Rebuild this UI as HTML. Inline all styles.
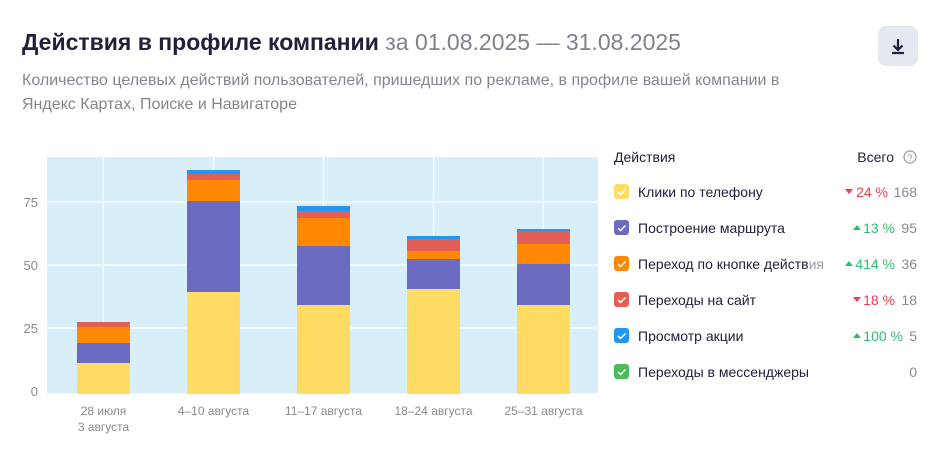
<!DOCTYPE html>
<html><head><meta charset="utf-8"><style>
body{margin:0;width:940px;height:460px;background:#fff;font-family:"Liberation Sans","Noto Sans CJK SC",sans-serif;position:relative;overflow:hidden}
.a{position:absolute;white-space:nowrap}
</style></head><body>
<div class="a" style="left:22px;top:29px;font-size:23px;font-weight:bold;color:#21213a">Действия в профиле компании <span style="font-weight:normal;color:#80808e">за 01.08.2025 — 31.08.2025</span></div>
<div class="a" style="left:22px;top:69px;font-size:16px;line-height:24px;color:#85858f">Количество целевых действий пользователей, пришедших по рекламе, в профиле вашей компании в<br>Яндекс Картах, Поиске и Навигаторе</div>
<div class="a" style="left:878px;top:26px;width:40px;height:40px;border-radius:8px;background:#e5e8f0"><svg width="40" height="40"><path d="M20 13v11M15.5 19.5 20 24l4.5-4.5M14 27h12" stroke="#21213a" stroke-width="2.2" fill="none"/></svg></div>
<svg class="a" style="left:0;top:0" width="600" height="460">
<rect x="47" y="157" width="551" height="237" fill="#d8eef9"/>
<g stroke="#fff" stroke-width="1.2">
<line x1="47" x2="598" y1="202" y2="202"/><line x1="47" x2="598" y1="265" y2="265"/><line x1="47" x2="598" y1="328" y2="328"/><line x1="47" x2="598" y1="394" y2="394"/>
<line x1="103.5" x2="103.5" y1="157" y2="394"/><line x1="213.5" x2="213.5" y1="157" y2="394"/><line x1="323.5" x2="323.5" y1="157" y2="394"/><line x1="433.5" x2="433.5" y1="157" y2="394"/><line x1="543.5" x2="543.5" y1="157" y2="394"/>
</g>
<g font-size="13" fill="#8a8a8a" text-anchor="end"><text x="38" y="207">75</text><text x="38" y="270">50</text><text x="38" y="333">25</text><text x="38" y="396">0</text></g>
<g>
<rect x="77" y="363" width="53" height="31" fill="#fedb62"/><rect x="77" y="343" width="53" height="20" fill="#6b6bc1"/><rect x="77" y="327" width="53" height="16" fill="#ff8800"/><rect x="77" y="322" width="53" height="5" fill="#e35f56"/>
<rect x="187" y="292" width="53" height="102" fill="#fedb62"/><rect x="187" y="201" width="53" height="91" fill="#6b6bc1"/><rect x="187" y="180" width="53" height="21" fill="#ff8800"/><rect x="187" y="174" width="53" height="6" fill="#e35f56"/><rect x="187" y="170" width="53" height="4" fill="#2196f3"/>
<rect x="297" y="305" width="53" height="89" fill="#fedb62"/><rect x="297" y="246" width="53" height="59" fill="#6b6bc1"/><rect x="297" y="218" width="53" height="28" fill="#ff8800"/><rect x="297" y="211" width="53" height="7" fill="#e35f56"/><rect x="297" y="206" width="53" height="5" fill="#2196f3"/>
<rect x="407" y="289" width="53" height="105" fill="#fedb62"/><rect x="407" y="259" width="53" height="30" fill="#6b6bc1"/><rect x="407" y="251" width="53" height="8" fill="#ff8800"/><rect x="407" y="239" width="53" height="12" fill="#e35f56"/><rect x="407" y="236" width="53" height="3" fill="#2196f3"/>
<rect x="517" y="305" width="53" height="89" fill="#fedb62"/><rect x="517" y="264" width="53" height="41" fill="#6b6bc1"/><rect x="517" y="244" width="53" height="20" fill="#ff8800"/><rect x="517" y="231" width="53" height="13" fill="#e35f56"/><rect x="517" y="229" width="53" height="2" fill="#2196f3"/>
</g>
<g font-size="12" fill="#8a8a8a" text-anchor="middle"><text x="103.5" y="415">28 июля</text><text x="103.5" y="431">3 августа</text><text x="213.5" y="415">4–10 августа</text><text x="323.5" y="415">11–17 августа</text><text x="433.5" y="415">18–24 августа</text><text x="543.5" y="415">25–31 августа</text></g>
</svg>
<svg class="a" style="left:600px;top:140px" width="340" height="250" font-family="Liberation Sans, sans-serif">
<text x="14" y="22" font-size="14" fill="#21213a">Действия</text>
<text x="294" y="22" font-size="14" fill="#21213a" text-anchor="end">Всего</text>
<circle cx="310" cy="17" r="6" fill="none" stroke="#999" stroke-width="1.2"/><text x="310" y="21" font-size="9" fill="#999" text-anchor="middle">?</text>
<g font-size="14">
<g transform="translate(0,52)"><rect x="14" y="-8" width="15" height="15" rx="3" fill="#fedb62"/><path d="M18 0l2.5 2.5 5-5" stroke="#fff" stroke-width="1.5" fill="none"/><text x="38" y="5" fill="#21213a">Клики по телефону</text><path d="M245-3h8l-4 5z" fill="#f33b4f"/><text x="288" y="5" fill="#f33b4f" text-anchor="end">24 %</text><text x="317" y="5" fill="#8a8a95" text-anchor="end">168</text></g>
<g transform="translate(0,88)"><rect x="14" y="-8" width="15" height="15" rx="3" fill="#6b6bc1"/><path d="M18 0l2.5 2.5 5-5" stroke="#fff" stroke-width="1.5" fill="none"/><text x="38" y="5" fill="#21213a">Построение маршрута</text><path d="M253 2h8l-4-5z" fill="#2dbd6e"/><text x="295" y="5" fill="#2dbd6e" text-anchor="end">13 %</text><text x="317" y="5" fill="#8a8a95" text-anchor="end">95</text></g>
<g transform="translate(0,124)"><rect x="14" y="-8" width="15" height="15" rx="3" fill="#ff8800"/><path d="M18 0l2.5 2.5 5-5" stroke="#fff" stroke-width="1.5" fill="none"/><text x="38" y="5" fill="#21213a">Переход по кнопке действ<tspan fill="#9a9aa5">ия</tspan></text><path d="M245 2h8l-4-5z" fill="#2dbd6e"/><text x="295" y="5" fill="#2dbd6e" text-anchor="end">414 %</text><text x="317" y="5" fill="#8a8a95" text-anchor="end">36</text></g>
<g transform="translate(0,160)"><rect x="14" y="-8" width="15" height="15" rx="3" fill="#e35f56"/><path d="M18 0l2.5 2.5 5-5" stroke="#fff" stroke-width="1.5" fill="none"/><text x="38" y="5" fill="#21213a">Переходы на сайт</text><path d="M253-3h8l-4 5z" fill="#f33b4f"/><text x="295" y="5" fill="#f33b4f" text-anchor="end">18 %</text><text x="317" y="5" fill="#8a8a95" text-anchor="end">18</text></g>
<g transform="translate(0,196)"><rect x="14" y="-8" width="15" height="15" rx="3" fill="#2196f3"/><path d="M18 0l2.5 2.5 5-5" stroke="#fff" stroke-width="1.5" fill="none"/><text x="38" y="5" fill="#21213a">Просмотр акции</text><path d="M253 2h8l-4-5z" fill="#2dbd6e"/><text x="303" y="5" fill="#2dbd6e" text-anchor="end">100 %</text><text x="317" y="5" fill="#8a8a95" text-anchor="end">5</text></g>
<g transform="translate(0,232)"><rect x="14" y="-8" width="15" height="15" rx="3" fill="#4cbb5a"/><path d="M18 0l2.5 2.5 5-5" stroke="#fff" stroke-width="1.5" fill="none"/><text x="38" y="5" fill="#21213a">Переходы в мессенджеры</text><text x="317" y="5" fill="#8a8a95" text-anchor="end">0</text></g>
</g>
</svg>
</body></html>
